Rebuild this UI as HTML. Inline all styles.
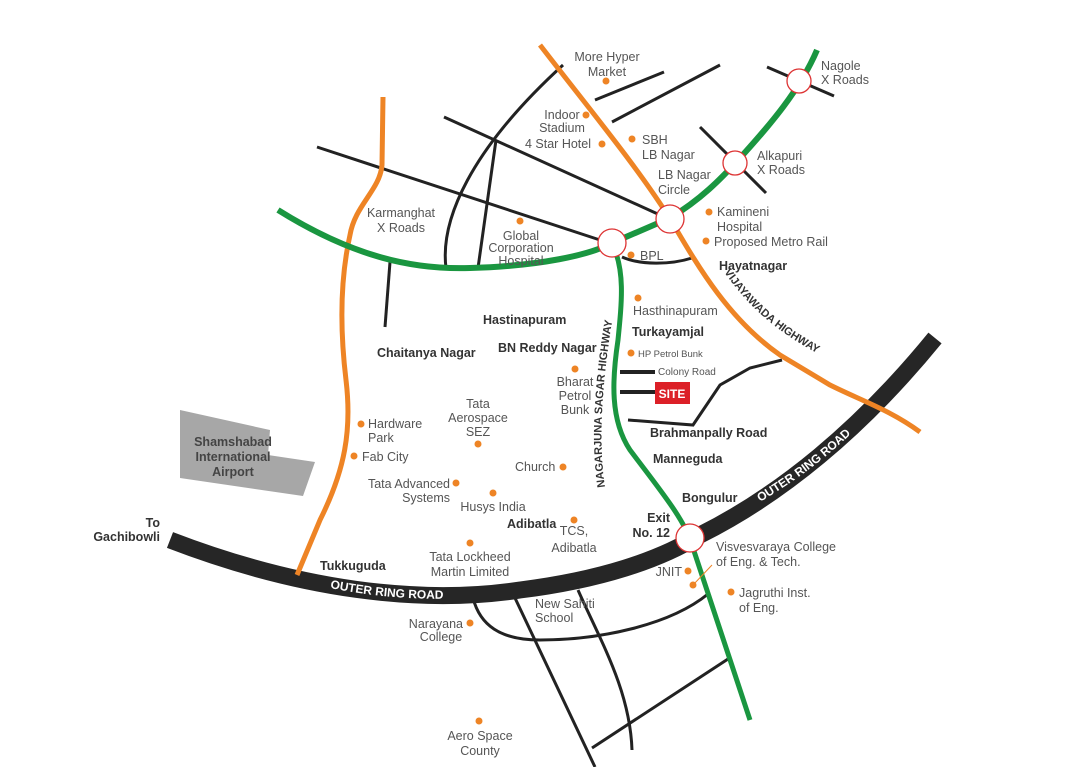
<!DOCTYPE html>
<html><head><meta charset="utf-8"><style>
html,body{margin:0;padding:0;background:#fff;}
svg{display:block;font-family:"Liberation Sans",sans-serif;}
.t{fill:#555;font-size:12.5px;}
.b{fill:#333;font-size:12.5px;font-weight:bold;}
.d{fill:#ee8425;}
.r{fill:none;stroke:#222;stroke-width:3;}
</style></head><body>
<svg width="1079" height="767" viewBox="0 0 1079 767">
<rect width="1079" height="767" fill="#fff"/>
<!-- airport -->
<polygon points="180,410 270,430 268,455 315,462 303,496 180,478" fill="#a7a7a7"/>
<text class="b" text-anchor="middle" font-size="12" style="fill:#444"><tspan x="233" y="446">Shamshabad</tspan><tspan x="233" y="461">International</tspan><tspan x="233" y="476">Airport</tspan></text>
<!-- thin roads -->
<path class="r" d="M317,147 L600,240"/>
<path class="r" d="M444,117 L660,215"/>
<path class="r" d="M446,268 C440,220 470,150 563,65"/>
<path class="r" d="M478,268 L496,140"/>
<path class="r" d="M595,100 L664,72"/>
<path class="r" d="M612,122 L720,65"/>
<path class="r" d="M390,262 L385,327"/>
<path class="r" d="M622,257 C640,265 670,265 692,258"/>
<path class="r" d="M767,67 L834,96"/>
<path class="r" d="M700,127 L766,193"/>
<path class="r" d="M628,420 L693,425 L720,385 L750,368 L782,360"/>
<path d="M620,372 L655,372 M620,392 L655,392" stroke="#222" stroke-width="4"/>
<path class="r" d="M473,598 C480,625 500,640 540,640 C600,640 670,625 708,594"/>
<path class="r" d="M515,598 L595,767"/>
<path class="r" d="M578,590 C600,640 630,690 632,750"/>
<path class="r" d="M592,748 L728,659"/>
<!-- outer ring road -->
<path d="M170,540 C300,590 420,605 520,590 C600,580 660,560 700,535 C780,495 860,430 935,338" fill="none" stroke="#262626" stroke-width="17"/>
<path id="orr1" d="M330,588 C380,598 430,601 480,597" fill="none"/>
<text fill="#fff" font-size="12" font-weight="bold"><textPath href="#orr1">OUTER RING ROAD</textPath></text>
<path id="orr2" d="M760,502 C800,478 830,455 860,425" fill="none"/>
<text fill="#fff" font-size="12" font-weight="bold"><textPath href="#orr2">OUTER RING ROAD</textPath></text>
<!-- orange -->
<path d="M383,97 L382,165 C380,190 355,205 350,235 C340,280 340,330 346,380 C352,430 345,470 320,520 L297,575" fill="none" stroke="#ee8425" stroke-width="5"/>
<path d="M540,45 C590,110 640,170 672,222 C700,270 730,320 780,355 L830,385 C860,400 890,410 920,432" fill="none" stroke="#ee8425" stroke-width="5"/>
<!-- green -->
<path d="M278,210 C350,255 410,270 470,268 C540,266 590,255 612,243 L670,218 C700,200 720,180 740,158 C770,125 800,90 817,50" fill="none" stroke="#1a9640" stroke-width="6"/>
<path d="M612,243 C625,270 622,300 618,340 C612,380 610,420 630,450 C660,490 685,520 692,545 L750,720" fill="none" stroke="#1a9640" stroke-width="5"/>
<!-- highway labels -->
<path id="vh" d="M724,272 C748,305 772,330 826,358" fill="none"/>
<text fill="#333" font-size="11" font-weight="bold"><textPath href="#vh">VIJAYAWADA HIGHWAY</textPath></text>
<path id="nh" d="M605,487 C598,440 602,380 614,310" fill="none"/>
<text fill="#333" font-size="11" font-weight="bold"><textPath href="#nh">NAGARJUNA SAGAR HIGHWAY</textPath></text>
<!-- circles -->
<g fill="#fff" stroke="#d33" stroke-width="1.3">
<circle cx="612" cy="243" r="14"/><circle cx="670" cy="219" r="14"/>
<circle cx="735" cy="163" r="12"/><circle cx="799" cy="81" r="12"/>
<circle cx="690" cy="538" r="14"/></g>
<!-- site -->
<rect x="655" y="382" width="35" height="22" fill="#dc2027"/>
<text x="672" y="398" fill="#fff" font-size="12" font-weight="bold" text-anchor="middle">SITE</text>
<!-- dots -->
<g class="d">
<circle cx="606" cy="81" r="3.5"/><circle cx="586" cy="115" r="3.5"/><circle cx="602" cy="144" r="3.5"/><circle cx="632" cy="139" r="3.5"/>
<circle cx="520" cy="221" r="3.5"/><circle cx="709" cy="212" r="3.5"/><circle cx="706" cy="241" r="3.5"/><circle cx="631" cy="255" r="3.5"/>
<circle cx="638" cy="298" r="3.5"/><circle cx="631" cy="353" r="3.5"/><circle cx="575" cy="369" r="3.5"/>
<circle cx="361" cy="424" r="3.5"/><circle cx="354" cy="456" r="3.5"/><circle cx="478" cy="444" r="3.5"/><circle cx="563" cy="467" r="3.5"/>
<circle cx="456" cy="483" r="3.5"/><circle cx="493" cy="493" r="3.5"/><circle cx="574" cy="520" r="3.5"/><circle cx="470" cy="543" r="3.5"/>
<circle cx="688" cy="571" r="3.5"/><circle cx="693" cy="585" r="3.5"/><circle cx="731" cy="592" r="3.5"/><circle cx="470" cy="623" r="3.5"/><circle cx="479" cy="721" r="3.5"/>
</g>
<path d="M693,585 L712,565" stroke="#ee8425" stroke-width="1"/>
<!-- labels -->
<g class="t">
<text x="607" y="61" text-anchor="middle">More Hyper</text><text x="607" y="76" text-anchor="middle">Market</text>
<text x="562" y="119" text-anchor="middle">Indoor</text><text x="562" y="132" text-anchor="middle">Stadium</text>
<text x="525" y="148">4 Star Hotel</text>
<text x="642" y="144">SBH</text><text x="642" y="159">LB Nagar</text>
<text x="658" y="179">LB Nagar</text><text x="658" y="194">Circle</text>
<text x="821" y="70">Nagole</text><text x="821" y="84">X Roads</text>
<text x="757" y="160">Alkapuri</text><text x="757" y="174">X Roads</text>
<text x="717" y="216">Kamineni</text><text x="717" y="231">Hospital</text>
<text x="714" y="246">Proposed Metro Rail</text>
<text x="401" y="217" text-anchor="middle">Karmanghat</text><text x="401" y="232" text-anchor="middle">X Roads</text>
<text x="521" y="240" text-anchor="middle">Global</text><text x="521" y="252" text-anchor="middle">Corporation</text><text x="521" y="265" text-anchor="middle">Hospital</text>
<text x="640" y="260">BPL</text>
<text x="633" y="315">Hasthinapuram</text>
<text x="638" y="357" font-size="9.5">HP Petrol Bunk</text>
<text x="658" y="375" font-size="10">Colony Road</text>
<text x="575" y="386" text-anchor="middle">Bharat</text><text x="575" y="400" text-anchor="middle">Petrol</text><text x="575" y="414" text-anchor="middle">Bunk</text>
<text x="478" y="408" text-anchor="middle">Tata</text><text x="478" y="422" text-anchor="middle">Aerospace</text><text x="478" y="436" text-anchor="middle">SEZ</text>
<text x="368" y="428">Hardware</text><text x="368" y="442">Park</text>
<text x="362" y="461">Fab City</text>
<text x="515" y="471">Church</text>
<text x="450" y="488" text-anchor="end">Tata Advanced</text><text x="450" y="502" text-anchor="end">Systems</text>
<text x="493" y="511" text-anchor="middle">Husys India</text>
<text x="574" y="535" text-anchor="middle">TCS,</text><text x="574" y="552" text-anchor="middle">Adibatla</text>
<text x="470" y="561" text-anchor="middle">Tata Lockheed</text><text x="470" y="576" text-anchor="middle">Martin Limited</text>
<text x="716" y="551">Visvesvaraya College</text><text x="716" y="566">of Eng. &amp; Tech.</text>
<text x="682" y="576" text-anchor="end">JNIT</text>
<text x="739" y="597">Jagruthi Inst.</text><text x="739" y="612">of Eng.</text>
<text x="463" y="628" text-anchor="end">Narayana</text><text x="441" y="641" text-anchor="middle">College</text>
<text x="535" y="608">New Sahiti</text><text x="535" y="622">School</text>
<text x="480" y="740" text-anchor="middle">Aero Space</text><text x="480" y="755" text-anchor="middle">County</text>
</g>
<g class="b">
<text x="719" y="270">Hayatnagar</text>
<text x="483" y="324">Hastinapuram</text>
<text x="632" y="336">Turkayamjal</text>
<text x="498" y="352">BN Reddy Nagar</text>
<text x="377" y="357">Chaitanya Nagar</text>
<text x="650" y="437">Brahmanpally Road</text>
<text x="653" y="463">Manneguda</text>
<text x="682" y="502">Bongulur</text>
<text x="670" y="522" text-anchor="end">Exit</text><text x="670" y="537" text-anchor="end">No. 12</text>
<text x="507" y="528">Adibatla</text>
<text x="320" y="570">Tukkuguda</text>
<text x="160" y="527" text-anchor="end">To</text><text x="160" y="541" text-anchor="end">Gachibowli</text>
</g>
</svg>
</body></html>
